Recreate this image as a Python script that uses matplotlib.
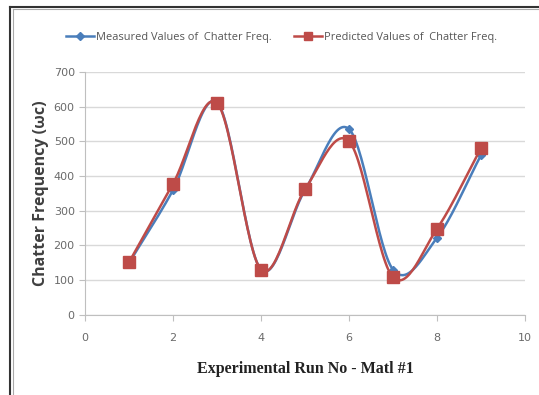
import numpy as np
import matplotlib.pyplot as plt

runs = [1, 2, 3, 4, 5, 6, 7, 8, 9]
measured = [150, 360, 612, 130, 360, 535, 130, 222, 460]
predicted = [152, 378, 610, 130, 362, 500, 108, 248, 480]


def smooth(x, y, n=30):
    # Catmull-Rom spline, close to Excel's smoothed line
    x = np.asarray(x, float)
    y = np.asarray(y, float)
    px = np.concatenate([[2 * x[0] - x[1]], x, [2 * x[-1] - x[-2]]])
    py = np.concatenate([[2 * y[0] - y[1]], y, [2 * y[-1] - y[-2]]])
    xs, ys = [], []
    t = np.linspace(0, 1, n)
    for i in range(1, len(px) - 2):
        for p, out in ((px, xs), (py, ys)):
            p0, p1, p2, p3 = p[i - 1], p[i], p[i + 1], p[i + 2]
            out.append(0.5 * ((2 * p1) + (-p0 + p2) * t
                              + (2 * p0 - 5 * p1 + 4 * p2 - p3) * t ** 2
                              + (-p0 + 3 * p1 - 3 * p2 + p3) * t ** 3))
    return np.concatenate(xs), np.concatenate(ys)


blue = '#4a7ebb'
red = '#be4b48'

fig = plt.figure(figsize=(5.39, 3.95), dpi=100)
ax = fig.add_axes([0.158, 0.203, 0.816, 0.615])

# outer frame
fig.add_artist(plt.Line2D([0.019, 0.019], [0, 0.982], color='#333333', lw=1.5, transform=fig.transFigure))
fig.add_artist(plt.Line2D([0.019, 1], [0.982, 0.982], color='#333333', lw=1.5, transform=fig.transFigure))
fig.add_artist(plt.Line2D([0.025, 0.025], [0, 0.976], color='#aaaaaa', lw=0.8, transform=fig.transFigure))
fig.add_artist(plt.Line2D([0.025, 1], [0.976, 0.976], color='#aaaaaa', lw=0.8, transform=fig.transFigure))

sx, sy = smooth(runs, measured)
ax.plot(sx, sy, color=blue, lw=1.8)
ax.plot(runs, measured, 'D', color=blue, ms=4.5)
px, py = smooth(runs, predicted)
ax.plot(px, py, color=red, lw=1.8)
ax.plot(runs, predicted, 's', color=red, ms=8)

# legend proxies
ax.plot([], [], color=blue, lw=1.8, marker='D', ms=4, label='Measured Values of  Chatter Freq.')
ax.plot([], [], color=red, lw=1.8, marker='s', ms=6, label='Predicted Values of  Chatter Freq.')
fig.legend(loc='center', bbox_to_anchor=(0.522, 0.905), ncol=2, frameon=False,
           handlelength=2.6, columnspacing=2.0, handletextpad=0.15,
           labelcolor='#555555', prop={'family': 'Open Sans', 'size': 7.9})

ax.set_xlim(0, 10)
ax.set_ylim(0, 700)
ax.set_xticks(range(0, 11, 2))
ax.set_yticks(range(0, 701, 100))
ax.grid(axis='y', color='#d9d9d9', lw=1)
ax.set_axisbelow(True)
for s in ['top', 'right']:
    ax.spines[s].set_visible(False)
for s in ['left', 'bottom']:
    ax.spines[s].set_color('#bfbfbf')
ax.tick_params(colors='#bfbfbf', labelcolor='#6a6a6a', labelsize=8, length=4)
ax.tick_params(axis='x', pad=9)

ax.set_ylabel('Chatter Frequency (ωc)', fontsize=11.5, fontweight='bold', color='#404040',
              family='Open Sans', labelpad=3)
ax.set_xlabel('Experimental Run No - Matl #1', fontsize=11.5, fontweight='bold',
              family='Liberation Serif', color='#222222', labelpad=13)

fig.savefig('out.png', dpi=100)
